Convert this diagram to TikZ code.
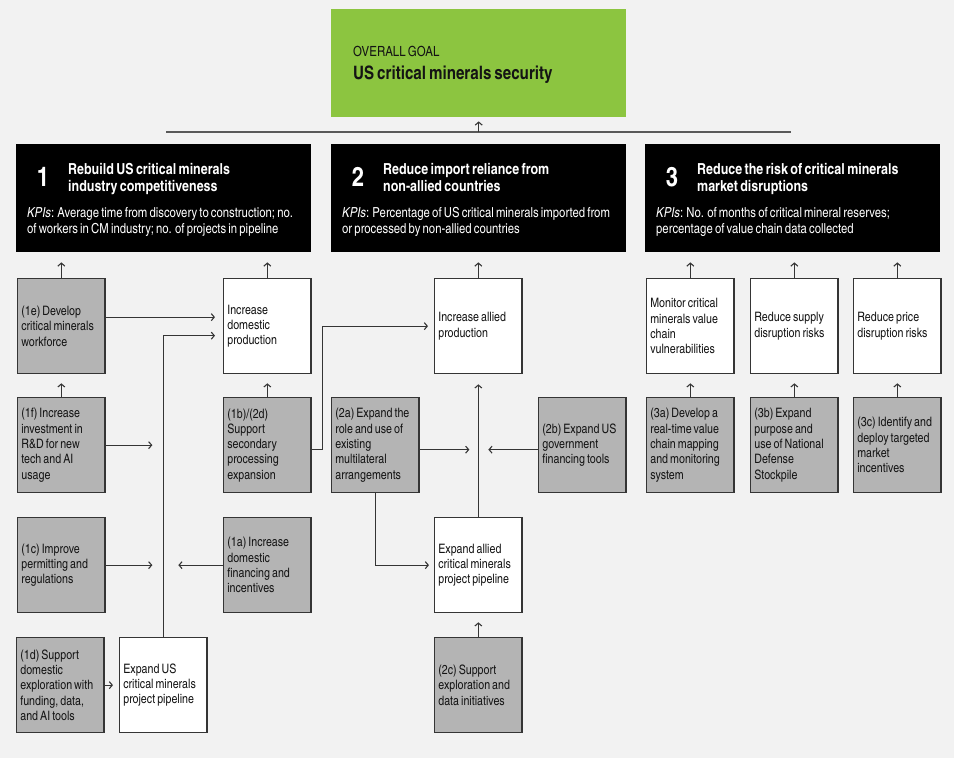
\documentclass[tikz,border=0pt]{standalone}
\usepackage{fontspec}
\setmainfont{texgyreheroscn}[Extension=.otf, UprightFont=*-regular, BoldFont=*-bold, ItalicFont=*-italic, BoldItalicFont=*-bolditalic, WordSpace=0.7]
\usepackage{tikz}
\usetikzlibrary{calc,arrows.meta}

\definecolor{bgcol}{HTML}{F2F2F2}
\definecolor{goalgreen}{HTML}{8CC540}
\definecolor{actgray}{HTML}{B4B4B4}
\definecolor{linecol}{HTML}{353535}
\definecolor{txtcol}{HTML}{141414}

\tikzset{
	goal/.style={rectangle, fill=goalgreen, minimum width=295pt, minimum height=108pt, inner sep=0pt},
	aim/.style={rectangle, fill=black, minimum width=295pt, minimum height=108pt, inner sep=0pt},
	aimnum/.style={text=white, inner sep=0pt, font=\fontsize{27}{27}\selectfont\bfseries},
	aimtitle/.style={text=white, inner sep=0pt, align=left, font=\fontsize{15.2}{17}\selectfont\bfseries},
	aimkpi/.style={text=white, inner sep=0pt, align=left, font=\fontsize{13.8}{16}\selectfont},
	outbox/.style={rectangle, draw=linecol, line width=1.3pt, fill=white, text=txtcol, minimum width=87pt, minimum height=95pt, text width=80pt, inner xsep=3.7pt, inner ysep=0pt, align=flush left, font=\fontsize{13}{15.3}\selectfont},
	actbox/.style={outbox, fill=actgray},
	arr/.style={draw=linecol, line width=1.1pt, -{Straight Barb[length=3pt,width=7pt]}},
}

\def\aimbox[#1](#2)#3#4#5{%
	\node[aim, anchor=north west] (#1) at (#2) {};
	\node[aimnum] (#1num) at ($(#1.north west)+(27,33)$) {#3};
	\node[aimtitle, anchor=north west] (#1title) at ($(#1.north west)+(52,19)$) {#4};
	\node[aimkpi, anchor=north west] (#1kpi) at ($(#1.north west)+(11,63)$) {#5};
}

\begin{document}
\begin{tikzpicture}[x=1pt, y=-1pt]
	%%%%% START %%%%%
	
	\fill[bgcol] (0,0) rectangle (954,758);
	\useasboundingbox (0,0) rectangle (954,758);
	
	% overall goal
	\node[goal, anchor=north west] (goal) at (331,9) {};
	\node[anchor=north west, inner sep=0pt, text=txtcol, font=\fontsize{14}{14}\selectfont] (goalhead) at ($(goal.north west)+(22,37)$) {OVERALL GOAL};
	\node[anchor=north west, inner sep=0pt, text=txtcol, font=\fontsize{18.5}{18.5}\selectfont\bfseries] (goaltitle) at ($(goal.north west)+(22,57)$) {US critical minerals security};
	
	\coordinate (barL) at (166,132);
	\coordinate (barR) at (791,132);
	\draw[line width=2pt, color=black!65] (barL) -- (barR);
	\draw[arr, shorten >=4pt] (goal.south |- barL) -- (goal.south);
	
	% the three aims
	\aimbox[a1](16,144){1}{Rebuild US critical minerals\\industry competitiveness}{\textit{KPIs}: Average time from discovery to construction; no.\\of workers in CM industry; no. of projects in pipeline}
	\aimbox[a2](331,144){2}{Reduce import reliance from\\non-allied countries}{\textit{KPIs}: Percentage of US critical minerals imported from\\or processed by non-allied countries}
	\aimbox[a3](645,144){3}{Reduce the risk of critical minerals\\market disruptions}{\textit{KPIs}: No. of months of critical mineral reserves;\\percentage of value chain data collected}
	
	% row 1
	\node[actbox, anchor=north west] (r1e) at (17,278) {(1e) Develop\\critical minerals\\workforce};
	\node[outbox, anchor=north west] (dom) at (223,278) {Increase\\domestic\\production};
	\node[outbox, anchor=north west] (allied) at (434,278) {Increase allied\\production};
	\node[outbox, anchor=north west] (mon) at (646,278) {Monitor critical\\minerals value\\chain\\vulnerabilities};
	\node[outbox, anchor=north west] (sup) at (750,278) {Reduce supply\\disruption risks};
	\node[outbox, anchor=north west] (pri) at (853,278) {Reduce price\\disruption risks};
	
	% row 2
	\node[actbox, anchor=north west] (r1f) at (17,397) {(1f) Increase\\investment in\\R\&D for new\\tech and AI\\usage};
	\node[actbox, anchor=north west] (r1b) at (223,397) {(1b)/(2d)\\Support\\secondary\\processing\\expansion};
	\node[actbox, anchor=north west] (r2a) at (331,397) {(2a) Expand the\\role and use of\\existing\\multilateral\\arrangements};
	\node[actbox, anchor=north west] (r2b) at (538,397) {(2b) Expand US\\government\\financing tools};
	\node[actbox, anchor=north west] (r3a) at (646,397) {(3a) Develop a\\real-time value\\chain mapping\\and monitoring\\system};
	\node[actbox, anchor=north west] (r3b) at (750,397) {(3b) Expand\\purpose and\\use of National\\Defense\\Stockpile};
	\node[actbox, anchor=north west] (r3c) at (853,397) {(3c) Identify and\\deploy targeted\\market\\incentives};
	
	% row 3
	\node[actbox, anchor=north west] (r1c) at (17,517) {(1c) Improve\\permitting and\\regulations};
	\node[actbox, anchor=north west] (r1a) at (223,517) {(1a) Increase\\domestic\\financing and\\incentives};
	\node[outbox, anchor=north west] (eap) at (434,517) {Expand allied\\critical minerals\\project pipeline};
	
	% row 4
	\node[actbox, anchor=north west] (r1d) at (16,637) {(1d) Support\\domestic\\exploration with\\funding, data,\\and AI tools};
	\node[outbox, anchor=north west] (usp) at (119,637) {Expand US\\critical minerals\\project pipeline};
	\node[actbox, anchor=north west] (r2c) at (434,637) {(2c) Support\\exploration and\\data initiatives};
	
	% up to the aims
	\foreach \low/\aim in {r1e/a1, dom/a1, allied/a2, mon/a3, sup/a3, pri/a3}
		\draw[arr, shorten >=10pt] (\low.north) -- (\low.north |- \aim.south);
	
	% up between rows
	\foreach \low/\high in {r1f/r1e, r1b/dom, r3a/mon, r3b/sup, r3c/pri, r2c/eap}
		\draw[arr, shorten >=9pt] (\low.north) -- (\high.south);
	\draw[arr, shorten >=10pt] (eap.north) -- (allied.south);
	
	% aim 1 connectors
	\draw[arr, shorten >=8pt] ([yshift=9pt]r1e.east) -- ([yshift=9pt]r1e.east -| dom.west);
	\draw[arr, shorten >=8pt] (usp.north) |- ([yshift=-9.5pt]dom.west);
	\draw[arr, shorten >=11pt] (r1f.east) -- (usp.north |- r1f.east);
	\draw[arr, shorten >=11pt] (r1c.east) -- (usp.north |- r1c.east);
	\draw[arr, shorten >=15pt] (r1a.west) -- (usp.north |- r1a.west);
	\draw[arr, shorten >=6pt] (r1d.east) -- (usp.west);
	
	% aim 2 connectors
	\draw[arr, shorten >=6pt] ([yshift=-4.5pt]r1b.east) -- ++(11,0) |- (allied.west);
	\draw[arr, shorten >=9pt] ([yshift=-4.5pt]r2a.east) -- ([yshift=-4.5pt]r2a.east -| allied.south);
	\draw[arr, shorten >=10pt] ([yshift=-4.5pt]r2b.west) -- ([yshift=-4.5pt]r2b.west -| allied.south);
	\draw[arr, shorten >=5pt] (r2a.south) |- (eap.west);
	
	%%%%% END %%%%%
\end{tikzpicture}
\end{document}
